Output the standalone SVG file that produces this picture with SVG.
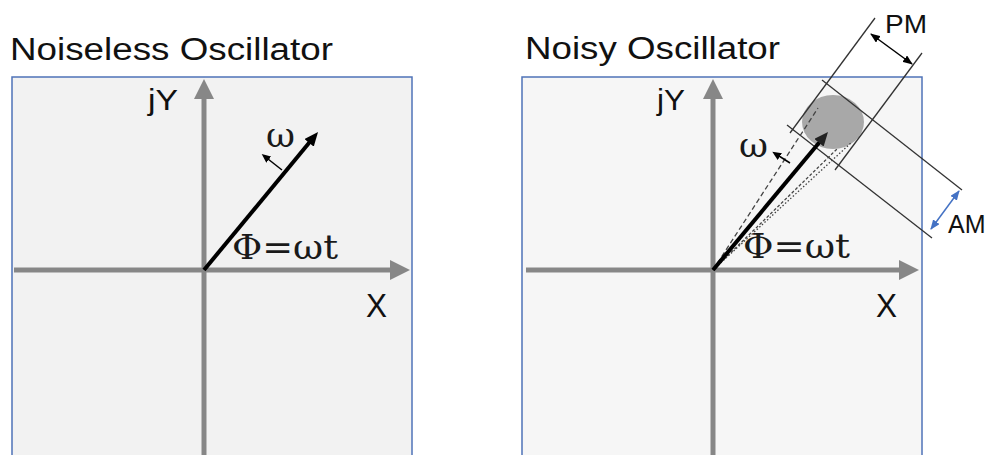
<svg xmlns="http://www.w3.org/2000/svg" width="990" height="455" viewBox="0 0 990 455">
<defs>
<style>
.box{stroke:#4f73b8;stroke-width:1.5}
.axis{stroke:#878787;stroke-width:5;fill:none}
.vec{stroke:#000;stroke-width:4;fill:none}
.small{stroke:#000;stroke-width:1.5;fill:none}
.guide{stroke:#333;stroke-width:1.3;fill:none}
.title{font-family:"Liberation Sans",Arial,sans-serif;font-size:31px;fill:#111}
.lab{font-family:"Liberation Sans",Arial,sans-serif;fill:#111}
.math{font-family:"DejaVu Serif","Liberation Serif",serif;font-size:33px;fill:#1a1a1a}
</style>
<marker id="axHead" viewBox="0 0 20 20" refX="2" refY="10" markerWidth="20" markerHeight="20" markerUnits="userSpaceOnUse" orient="auto"><path d="M0,0 L20,10 L0,20 z" fill="#878787"/></marker>
<marker id="vecHead" viewBox="0 0 14 12" refX="2" refY="6" markerWidth="14" markerHeight="12" markerUnits="userSpaceOnUse" orient="auto"><path d="M0,0 L14,6 L0,12 z" fill="#000"/></marker>
<marker id="vecHeadD" viewBox="0 0 14 12" refX="2" refY="6" markerWidth="14" markerHeight="12" markerUnits="userSpaceOnUse" orient="auto"><path d="M0,0 L14,6 L0,12 z" fill="#222"/></marker>
<marker id="smHead" viewBox="0 0 9 8" refX="1" refY="4" markerWidth="9" markerHeight="8" markerUnits="userSpaceOnUse" orient="auto"><path d="M0,0 L9,4 L0,8 z" fill="#000"/></marker>
<marker id="dblK" viewBox="0 0 10 8" refX="9" refY="4" markerWidth="10" markerHeight="8" markerUnits="userSpaceOnUse" orient="auto-start-reverse"><path d="M0,0 L10,4 L0,8 z" fill="#000"/></marker>
<marker id="dblB" viewBox="0 0 10 8" refX="9" refY="4" markerWidth="10" markerHeight="8" markerUnits="userSpaceOnUse" orient="auto-start-reverse"><path d="M0,0 L10,4 L0,8 z" fill="#4472c4"/></marker>
</defs>
<rect width="990" height="455" fill="#fff"/>

<g id="noiseless">
<text class="title" x="10" y="60" textLength="323" lengthAdjust="spacingAndGlyphs">Noiseless Oscillator</text>
<rect class="box" x="12" y="77" width="400" height="390" fill="#f2f2f2"/>
<line class="axis" x1="14" y1="270" x2="392" y2="270" marker-end="url(#axHead)"/>
<line class="axis" x1="204" y1="460" x2="204" y2="97" marker-end="url(#axHead)"/>
<text class="lab" x="148" y="110" font-size="30" textLength="30" lengthAdjust="spacingAndGlyphs">jY</text>
<text class="lab" x="366" y="317" font-size="34" textLength="21" lengthAdjust="spacingAndGlyphs">X</text>
<line class="vec" x1="204" y1="270" x2="310.4" y2="141.3" marker-end="url(#vecHead)"/>
<line class="small" x1="282" y1="170" x2="268" y2="159" marker-end="url(#smHead)"/>
<text class="math" x="266" y="147" textLength="29" lengthAdjust="spacingAndGlyphs">ω</text>
<text class="math" x="232" y="259" textLength="106" lengthAdjust="spacingAndGlyphs">Φ=ωt</text>
</g>

<g id="noisy">
<text class="title" x="525" y="59" textLength="255" lengthAdjust="spacingAndGlyphs">Noisy Oscillator</text>
<rect class="box" x="522" y="77" width="400" height="390" fill="#f6f6f6"/>
<line class="axis" x1="526" y1="270" x2="901" y2="270" marker-end="url(#axHead)"/>
<line class="axis" x1="713" y1="460" x2="713" y2="97" marker-end="url(#axHead)"/>
<text class="lab" x="657" y="110" font-size="30" textLength="28" lengthAdjust="spacingAndGlyphs">jY</text>
<text class="lab" x="876" y="317" font-size="34" textLength="21" lengthAdjust="spacingAndGlyphs">X</text>
<ellipse id="noise-blob" cx="833" cy="122" rx="31" ry="27" fill="#a8a8a8"/>
</g>

<g id="connectors">
<line class="guide" x1="875" y1="18" x2="790" y2="133"/>
<line class="guide" x1="922" y1="53" x2="835" y2="170"/>
<line class="guide" x1="822" y1="80" x2="962" y2="190"/>
<line class="guide" x1="787" y1="125" x2="932" y2="238"/>
<line x1="713" y1="270" x2="818" y2="108" stroke="#444" stroke-width="1.3" stroke-dasharray="5,3"/>
<line x1="713" y1="270" x2="838" y2="148" stroke="#444" stroke-width="1.3" stroke-dasharray="3,2"/>
<line x1="713" y1="270" x2="852" y2="142" stroke="#444" stroke-width="1.3" stroke-dasharray="1.5,2"/>
<line class="vec" x1="713" y1="270" x2="820.3" y2="141.2" stroke="#222" marker-end="url(#vecHeadD)"/>
<line class="small" x1="790" y1="163" x2="779" y2="156" marker-end="url(#smHead)"/>
<line x1="871" y1="34" x2="912" y2="64" stroke="#000" stroke-width="1.5" marker-start="url(#dblK)" marker-end="url(#dblK)"/>
<line x1="959" y1="191" x2="931" y2="229" stroke="#4472c4" stroke-width="1.5" marker-start="url(#dblB)" marker-end="url(#dblB)"/>
</g>

<g id="noisy-labels">
<text class="math" x="739" y="157" textLength="29" lengthAdjust="spacingAndGlyphs">ω</text>
<text class="math" x="743" y="258" textLength="107" lengthAdjust="spacingAndGlyphs">Φ=ωt</text>
<text class="lab" x="885" y="33" font-size="25" textLength="42" lengthAdjust="spacingAndGlyphs">PM</text>
<text class="lab" x="948" y="233" font-size="25">AM</text>
</g>
</svg>
